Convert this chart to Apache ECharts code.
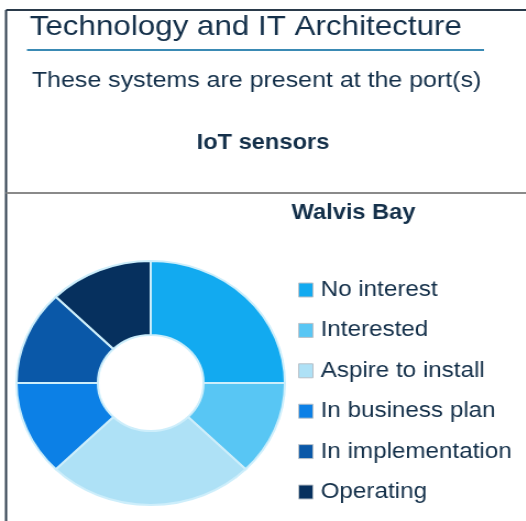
<!DOCTYPE html>
<html>
<head>
<meta charset="utf-8">
<script src="https://cdn.jsdelivr.net/npm/echarts@6/dist/echarts.min.js"></script>
<style>
  html, body { margin: 0; padding: 0; background: #fff; overflow: hidden; }
  /* the source slide is stretched ~1.1x horizontally, so the chart is drawn narrower and stretched the same way */
  #chart { width: 478px; height: 521px; transform: scaleX(1.1); transform-origin: 0 0; }
</style>
</head>
<body>
<div id="chart"></div>
<script>
// stages of adoption, in legend order
const stages = ['No interest', 'Interested', 'Aspire to install', 'In business plan', 'In implementation', 'Operating']
// number of answers per stage
const counts = [2, 1, 2, 1, 1, 1]
const colors = ['#12aaf0', '#58c6f4', '#aee1f6', '#0c80e6', '#0a58a8', '#06305e']

const navy = '#14304a'
const font = 'Liberation Sans'

const chart = echarts.init(document.getElementById('chart'))

const option = {
  animation: false,
  textStyle: { fontFamily: font },
  title: [
    {
      text: 'Technology and IT Architecture',
      left: 22, top: 8,
      textStyle: { fontSize: 28.5, fontWeight: 'normal', color: navy, fontFamily: font }
    },
    {
      text: 'These systems are present at the port(s)',
      left: 24, top: 64,
      textStyle: { fontSize: 22.7, fontWeight: 'normal', color: navy, fontFamily: font }
    },
    {
      text: 'IoT sensors',
      left: 'center', top: 127,
      textStyle: { fontSize: 21.5, fontWeight: 'bold', color: navy, fontFamily: font }
    },
    {
      text: 'Walvis Bay',
      left: 260, top: 197,
      textStyle: { fontSize: 21.5, fontWeight: 'bold', color: navy, fontFamily: font }
    }
  ],
  graphic: [
    { type: 'line', shape: { x1: 5.5, y1: 10, x2: 478, y2: 10 }, style: { stroke: '#2a3a4a', lineWidth: 2 } },
    { type: 'line', shape: { x1: 5.5, y1: 10, x2: 5.5, y2: 521 }, style: { stroke: '#2a3a4a', lineWidth: 2 } },
    { type: 'line', shape: { x1: 24.5, y1: 50, x2: 440, y2: 50 }, style: { stroke: '#3a8ab4', lineWidth: 2 } },
    { type: 'line', shape: { x1: 5.5, y1: 193, x2: 478, y2: 193 }, style: { stroke: '#8a8a8a', lineWidth: 2 } }
  ],
  legend: {
    orient: 'vertical',
    left: 266, top: 274,
    itemWidth: 13, itemHeight: 14,
    itemGap: 18.4,
    icon: 'rect',
    itemStyle: { borderColor: '#b8c0c8', borderWidth: 1 },
    textStyle: { fontSize: 22, lineHeight: 22, color: navy, fontFamily: font, padding: [0, 0, 0, 2] },
    data: stages
  },
  series: [{
    type: 'pie',
    center: [137, 383],
    radius: [48, 122],
    startAngle: 90,
    clockwise: true,
    label: { show: false },
    labelLine: { show: false },
    itemStyle: { borderColor: '#cdeefb', borderWidth: 2 },
    emphasis: { disabled: true },
    data: stages.map((name, i) => ({ name, value: counts[i], itemStyle: { color: colors[i] } }))
  }]
}

chart.setOption(option)
</script>
</body>
</html>
